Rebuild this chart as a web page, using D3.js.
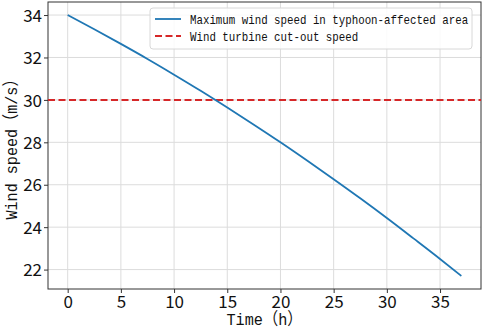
<!DOCTYPE html>
<html>
<head>
<meta charset="utf-8">
<script src="https://cdn.jsdelivr.net/npm/d3@7"></script>
<style>
  body { margin: 0; background: #fff; }
</style>
</head>
<body>
<svg id="chart"></svg>
<script>
// values
const hours = [0, 2.5, 5, 7.5, 10, 12.5, 15, 17.5, 20, 22.5, 25, 27.5, 30, 32.5, 35, 37]
const windSpeed = [34.0, 33.33, 32.64, 31.93, 31.19, 30.43, 29.64, 28.83, 28.0, 27.14, 26.26, 25.36, 24.43, 23.47, 22.5, 21.7]
const cutOut = 30
const xTicks = [0, 5, 10, 15, 20, 25, 30, 35]
const yTicks = [22, 24, 26, 28, 30, 32, 34]
const legendLabels = ['Maximum wind speed in typhoon-affected area', 'Wind turbine cut-out speed']

const W = 484, H = 331
const margin = {top: 2, right: 3, bottom: 42, left: 48}
const width = W - margin.left - margin.right,
    height = H - margin.top - margin.bottom

const tickFont = '"Noto Sans CJK SC", "Noto Sans", sans-serif'
const monoFont = '"Liberation Mono", "DejaVu Sans Mono", "Noto Sans CJK SC", monospace'

const svg = d3.select('#chart')
    .attr('width', W)
    .attr('height', H)

const g = svg.append('g')
    .attr('transform', `translate(${margin.left}, ${margin.top})`)

const data = hours.map((h, i) => ({h: h, v: windSpeed[i]}))

// matplotlib style 5% padding
const xPad = (d3.max(hours) - d3.min(hours)) * 0.05
const yPad = (d3.max(windSpeed) - d3.min(windSpeed)) * 0.05

const x = d3.scaleLinear()
    .domain([d3.min(hours) - xPad, d3.max(hours) + xPad])
    .range([0, width])

const y = d3.scaleLinear()
    .domain([d3.min(windSpeed) - yPad, d3.max(windSpeed) + yPad])
    .range([height, 0])

// grid
g.append('g')
    .selectAll('line')
    .data(xTicks)
    .join('line')
        .attr('x1', d => x(d)).attr('x2', d => x(d))
        .attr('y1', 0).attr('y2', height)
        .attr('stroke', '#dcdcdc')
        .attr('stroke-width', 1)

g.append('g')
    .selectAll('line')
    .data(yTicks)
    .join('line')
        .attr('x1', 0).attr('x2', width)
        .attr('y1', d => y(d)).attr('y2', d => y(d))
        .attr('stroke', '#dcdcdc')
        .attr('stroke-width', 1)

// axes
const xAxis = g.append('g')
    .attr('transform', `translate(0, ${height})`)
    .call(d3.axisBottom(x).tickValues(xTicks).tickSize(4).tickPadding(3).tickSizeOuter(0))

const yAxis = g.append('g')
    .call(d3.axisLeft(y).tickValues(yTicks).tickSize(4).tickPadding(2).tickSizeOuter(0))

xAxis.selectAll('text')
    .style('font-family', tickFont)
    .style('font-size', '17px')
    .attr('fill', '#111')
yAxis.selectAll('text')
    .style('font-family', tickFont)
    .style('font-size', '17px')
    .attr('fill', '#111')
    .attr('dy', '0.36em')
xAxis.selectAll('.tick line').attr('stroke', '#333')
yAxis.selectAll('.tick line').attr('stroke', '#333')
xAxis.select('.domain').remove()
yAxis.select('.domain').remove()

// frame
g.append('rect')
    .attr('width', width)
    .attr('height', height)
    .attr('fill', 'none')
    .attr('stroke', '#333')
    .attr('stroke-width', 1)

// cut-out speed line
g.append('line')
    .attr('x1', 0).attr('x2', width)
    .attr('y1', y(cutOut)).attr('y2', y(cutOut))
    .attr('stroke', '#d62728')
    .attr('stroke-width', 2)
    .attr('stroke-dasharray', '7,3.5')

// wind speed curve
g.append('path')
    .datum(data)
    .attr('fill', 'none')
    .attr('stroke', '#1f77b4')
    .attr('stroke-width', 1.8)
    .attr('d', d3.line()
        .x(d => x(d.h))
        .y(d => y(d.v))
        .curve(d3.curveMonotoneX))

// legend
const legend = g.append('g')
    .attr('transform', 'translate(102, 6)')

legend.append('rect')
    .attr('width', 322)
    .attr('height', 41)
    .attr('rx', 3)
    .attr('fill', '#fff')
    .attr('fill-opacity', 0.85)
    .attr('stroke', '#d8d8d8')

legend.selectAll('g')
    .data(legendLabels)
    .join(enter => {
        const row = enter.append('g')
            .attr('transform', (d, i) => `translate(0, ${11 + i * 17})`)
        row.append('line')
            .attr('x1', 5).attr('x2', 31)
            .attr('stroke', (d, i) => i === 0 ? '#1f77b4' : '#d62728')
            .attr('stroke-width', (d, i) => i === 0 ? 1.8 : 2)
            .attr('stroke-dasharray', (d, i) => i === 0 ? null : '7,3.5')
        // taller narrow glyphs, like the original mono font
        row.append('text')
            .attr('transform', 'translate(40, 0) scale(1, 1.2)')
            .attr('dy', '0.35em')
            .style('font-family', monoFont)
            .style('font-size', '10.8px')
            .attr('fill', '#111')
            .text(d => d)
        return row
    })

// axis titles
svg.append('text')
    .attr('x', margin.left + width / 2)
    .attr('y', 325)
    .attr('text-anchor', 'middle')
    .style('font-family', monoFont)
    .style('font-size', '17px')
    .attr('fill', '#111')
    .attr('textLength', 76)
    .attr('lengthAdjust', 'spacingAndGlyphs')
    .text('Time（h）')

svg.append('text')
    .attr('transform', `translate(17, ${margin.top + height / 2}) rotate(-90)`)
    .attr('text-anchor', 'middle')
    .style('font-family', monoFont)
    .style('font-size', '17px')
    .attr('fill', '#111')
    .attr('textLength', 148)
    .attr('lengthAdjust', 'spacingAndGlyphs')
    .text('Wind speed（m/s）')
</script>
</body>
</html>
